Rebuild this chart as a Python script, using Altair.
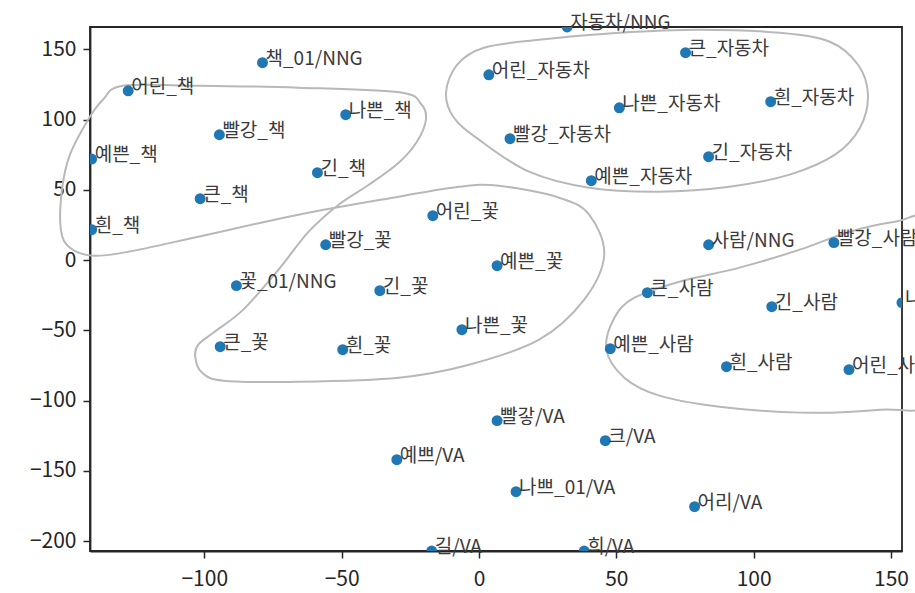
import altair as alt
import pandas as pd

# Word embedding coordinates (2-D projection)
words = [
    "어린_책", "책_01/NNG", "나쁜_책", "빨강_책", "예쁜_책", "긴_책", "큰_책", "흰_책",
    "자동차/NNG", "어린_자동차", "큰_자동차", "나쁜_자동차", "흰_자동차", "빨강_자동차", "긴_자동차", "예쁜_자동차",
    "어린_꽃", "빨강_꽃", "예쁜_꽃", "꽃_01/NNG", "긴_꽃", "나쁜_꽃", "큰_꽃", "흰_꽃",
    "사람/NNG", "빨강_사람", "큰_사람", "긴_사람", "나쁜_사람", "예쁜_사람", "흰_사람", "어린_사람",
    "빨갛/VA", "크/VA", "예쁘/VA", "나쁘_01/VA", "어리/VA", "길/VA", "희/VA",
]
xs = [
    -127.7, -78.8, -48.5, -94.5, -141.0, -58.8, -101.5, -141.0,
    32.1, 3.6, 75.2, 51.1, 106.2, 11.3, 83.6, 40.9,
    -16.8, -55.8, 6.6, -88.3, -36.1, -6.2, -94.2, -49.6,
    83.6, 129.2, 61.3, 106.6, 154.0, 47.8, 90.1, 134.7,
    6.6, 46.0, -29.9, 13.5, 78.5, -17.2, 38.3,
]
ys = [
    120.6, 140.6, 103.6, 89.3, 72.0, 62.3, 43.8, 21.7,
    166.0, 132.0, 147.7, 108.5, 112.8, 86.5, 73.7, 56.6,
    31.7, 11.0, -3.9, -18.1, -21.7, -49.5, -61.6, -63.7,
    11.0, 12.5, -23.1, -33.1, -30.2, -63.0, -75.8, -77.9,
    -114.2, -128.5, -142.0, -164.8, -175.4, -207.0, -207.0,
]

# Hand-drawn cluster outlines (data units)
outline_books_flowers_x = [
    -129.6, -102.2, -65.7, -29.0, -21.0, -19.3, -22.6, -29.2, -40.1, -51.1,
    -62.0, -73.0, -85.8, -96.7, -102.2, -103.3, -101.1, -93.1, -65.7, -29.2,
    -3.6, 21.9, 38.3, 45.6, 40.1, 29.2, 7.3, -7.3, -29.2, -65.7,
    -102.2, -127.7, -140.5, -148.9, -152.2, -151.8, -148.9, -142.3, -136.9,
]
outline_books_flowers_y = [
    124.2, 124.2, 122.8, 119.5, 111.0, 100.0, 84.3, 69.4, 53.7, 39.5,
    20.3, -6.8, -35.2, -51.6, -60.1, -68.7, -79.4, -85.8, -86.5, -83.6,
    -74.4, -56.6, -28.1, 3.9, 32.4, 44.5, 53.0, 52.3, 45.2, 32.4,
    16.7, 6.0, 3.2, 8.9, 21.7, 50.2, 75.1, 100.0, 114.2,
]
outline_cars_x = [
    -12.0, -8.0, 1.8, 21.9, 51.1, 80.3, 109.5, 127.7, 138.0, 141.6,
    138.7, 129.6, 113.1, 91.2, 65.7, 40.1, 18.2, 0.0, -9.1,
]
outline_cars_y = [
    119.2, 139.1, 151.2, 156.9, 161.9, 164.1, 161.9, 155.5, 139.1, 117.8,
    94.3, 75.1, 60.9, 52.3, 48.8, 51.6, 63.0, 85.8, 101.4,
]
outline_people_x = [
    46.4, 49.3, 56.6, 73.0, 94.9, 116.8, 135.0, 151.5, 166.1, 175.2,
    166.1, 146.0, 116.8, 87.6, 65.7, 52.9,
]
outline_people_y = [
    -63.7, -40.9, -26.7, -15.3, -5.3, 7.5, 20.3, 27.4, 28.8, -28.1,
    -99.3, -106.4, -108.5, -104.3, -96.4, -83.6,
]

x_ticks = [-100, -50, 0, 50, 100, 150]
y_ticks = [-200, -150, -100, -50, 0, 50, 100, 150]

points = pd.DataFrame({"word": words, "x": xs, "y": ys})

rows = []
for name, ox, oy in [
    ("books_flowers", outline_books_flowers_x, outline_books_flowers_y),
    ("cars", outline_cars_x, outline_cars_y),
    ("people", outline_people_x, outline_people_y),
]:
    for i, (a, b) in enumerate(zip(ox, oy)):
        rows.append({"blob": name, "idx": i, "x": a, "y": b})
outlines = pd.DataFrame(rows)

FONT = "Noto Sans CJK KR"
INK = "#262626"

x_enc = alt.X(
    "x:Q",
    scale=alt.Scale(domain=[-141.6, 154.0], nice=False, zero=False),
    axis=alt.Axis(values=x_ticks, title=None, grid=False, labelPadding=10),
)
y_enc = alt.Y(
    "y:Q",
    scale=alt.Scale(domain=[-207.0, 166.0], nice=False, zero=False),
    axis=alt.Axis(values=y_ticks, title=None, grid=False, labelPadding=7),
)

blob_layer = alt.Chart(outlines).mark_line(
    interpolate="cardinal-closed", color="#b8b8b8", strokeWidth=2
).encode(x=x_enc, y=y_enc, detail="blob:N", order="idx:Q")

dot_layer = alt.Chart(points).mark_circle(
    size=120, color="#1f77b4", opacity=1, clip=True
).encode(x=x_enc, y=y_enc)

text_layer = alt.Chart(points).mark_text(
    align="left", baseline="alphabetic", dx=3, dy=2,
    font=FONT, fontSize=19, color="#3a3a3a"
).encode(x=x_enc, y=y_enc, text="word:N")

chart = (
    alt.layer(blob_layer, dot_layer, text_layer)
    .properties(
        width=812,
        height=524,
        autosize=alt.AutoSizeParams(type="none"),
        padding={"left": 90, "top": 27, "right": 13, "bottom": 42},
    )
    .configure_view(stroke=INK, strokeWidth=1.8)
    .configure_axis(
        labelFont=FONT,
        labelFontSize=21,
        labelColor=INK,
        tickColor=INK,
        tickSize=7,
        tickWidth=1.5,
        domainColor=INK,
        domainWidth=1.8,
    )
)

chart.save("out.html", embed_options={"renderer": "svg", "actions": False})
